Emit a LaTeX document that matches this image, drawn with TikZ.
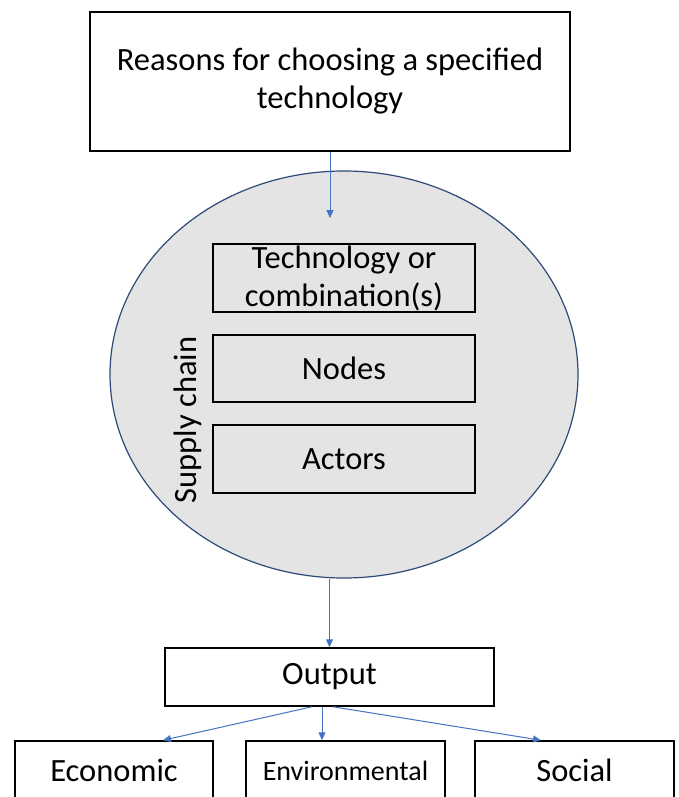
\documentclass[tikz,border=0pt]{standalone}
\usepackage{fontspec}
\setmainfont{Carlito}
\usetikzlibrary{shapes.geometric,arrows.meta}
\definecolor{arrowblue}{HTML}{4472C4}
\definecolor{ellfill}{HTML}{E4E4E4}
\definecolor{ellline}{HTML}{2E4A78}
\tikzset{
  box/.style={draw=black, line width=1.5pt, inner sep=0pt, align=center, font=\fontsize{32.5}{38}\selectfont},
  innerbox/.style={box, line width=1.3pt, minimum width=262pt},
  conn/.style={draw=arrowblue, line width=1pt, -{Triangle[width=7pt,length=8pt]}},
}
\begin{document}
\begin{tikzpicture}[x=1pt,y=-1pt]
\useasboundingbox (0,0) rectangle (678,797);
\clip (0,0) rectangle (678,797);
\fill[white] (0,0) rectangle (678,797);
\node[box, minimum width=480pt, minimum height=139pt] (top) at (330,81.5) {Reasons for choosing a specified\\technology};
\node[ellipse, draw=ellline, fill=ellfill, line width=1.2pt, minimum width=468pt, minimum height=407pt, inner sep=0pt] (ell) at (344,374.5) {};
\node[innerbox, minimum height=68pt] (tech) at (344,278) {Technology or\\combination(s)};
\node[innerbox, minimum height=67pt] (nodes) at (344,368.5) {Nodes};
\node[innerbox, minimum height=68pt] (actors) at (344,459) {Actors};
\node[font=\fontsize{32.5}{38}\selectfont, rotate=90, inner sep=0pt] (sc) at (188,420) {Supply chain};
\node[box, minimum width=329pt, minimum height=58pt] (out) at (329.5,677) {Output};
\node[box, minimum width=198pt, minimum height=59pt] (eco) at (114,770.5) {Economic};
\node[box, minimum width=199pt, minimum height=59pt, font=\fontsize{28}{32}\selectfont] (env) at (345.5,770.5) {Environmental};
\node[box, minimum width=199pt, minimum height=59pt] (soc) at (574.5,770.5) {Social};
\coordinate (inarrow) at (330,218);
\draw[conn] (top.south) -- (inarrow);
\draw[conn] (out.north |- ell.south) -- (out.north);
\draw[conn] ([xshift=-17.5pt]out.south) -- ([xshift=49pt]eco.north);
\draw[conn] ([xshift=-7.5pt]out.south) -- ([xshift=-23.5pt]env.north);
\draw[conn] ([xshift=3.5pt]out.south) -- ([xshift=-33.5pt]soc.north);
\end{tikzpicture}
\end{document}
